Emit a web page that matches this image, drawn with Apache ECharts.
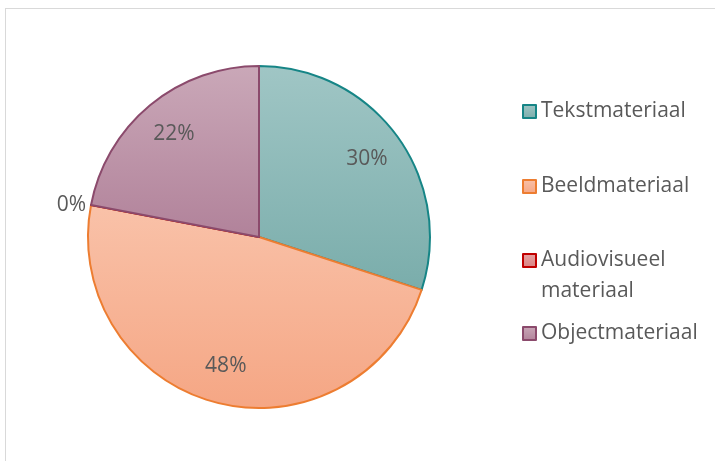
<!DOCTYPE html>
<html>
<head>
<meta charset="utf-8">
<script src="https://cdn.jsdelivr.net/npm/echarts@6/dist/echarts.min.js"></script>
<style>
  html, body { margin: 0; padding: 0; background: #fff; }
  #frame {
    position: absolute; left: 5px; top: 8px; width: 800px; height: 600px;
    border: 1px solid #d9d9d9; box-sizing: border-box;
  }
  #main { position: absolute; left: 0; top: 0; width: 715px; height: 461px; }
</style>
</head>
<body>
<div id="frame"></div>
<div id="main"></div>
<script>
// data
var categories = ['Tekstmateriaal', 'Beeldmateriaal', 'Audiovisueel\nmateriaal', 'Objectmateriaal'];
var percentages = [30, 48, 0, 22];

// fill top/bottom + border per category
var fillTop = ['#a0c6c5', '#f9c2a9', '#e8a3a3', '#caa8b8'];
var fillBottom = ['#7aadab', '#f5a684', '#d98282', '#b1829a'];
var borders = ['#168586', '#ed7d31', '#c00000', '#8b4a6c'];

var textColor = '#595959';
var fontFamily = 'Open Sans, Liberation Sans, sans-serif';
var fontSize = 21;

function grad(i) {
  return {
    type: 'linear', x: 0, y: 0, x2: 0, y2: 1,
    colorStops: [
      { offset: 0, color: fillTop[i] },
      { offset: 1, color: fillBottom[i] }
    ]
  };
}

var mainData = categories.map(function (name, i) {
  return {
    name: name,
    value: percentages[i],
    itemStyle: { color: grad(i), borderColor: borders[i], borderWidth: 2 },
    // only the empty slice gets its label outside
    label: { show: percentages[i] === 0 }
  };
});

var labelData = categories.map(function (name, i) {
  return {
    name: name,
    value: percentages[i],
    label: { show: percentages[i] > 0 }
  };
});

var legendTops = [96, 171, 214, 318];
var legends = categories.map(function (name, i) {
  return {
    data: [name],
    orient: 'vertical',
    left: 522,
    top: legendTops[i],
    padding: 0,
    itemWidth: 13,
    itemHeight: 13,
    icon: 'rect',
    selectedMode: false,
    // empty first line keeps the icon level with the first text line
    formatter: function (n) { return n.indexOf('\n') >= 0 ? '\n' + n : n; },
    textStyle: {
      color: textColor,
      fontSize: fontSize,
      fontFamily: fontFamily,
      lineHeight: 31
    }
  };
});

var chart = echarts.init(document.getElementById('main'));
chart.setOption({
  animation: false,
  legend: legends,
  series: [
    {
      type: 'pie',
      center: [259, 237],
      radius: 171,
      startAngle: 90,
      clockwise: true,
      avoidLabelOverlap: false,
      silent: true,
      label: {
        position: 'outside',
        formatter: '{c}%',
        color: textColor,
        fontSize: fontSize,
        fontFamily: fontFamily
      },
      labelLine: { show: false, length: 0, length2: 0 },
      data: mainData
    },
    {
      // transparent ring used only to place the inside labels
      type: 'pie',
      center: [259, 237],
      radius: [90, 171],
      startAngle: 90,
      clockwise: true,
      silent: true,
      avoidLabelOverlap: false,
      itemStyle: { color: 'rgba(0,0,0,0)' },
      label: {
        position: 'inside',
        formatter: '{c}%',
        color: textColor,
        fontSize: fontSize,
        fontFamily: fontFamily
      },
      labelLine: { show: false },
      data: labelData
    }
  ]
});
</script>
</body>
</html>
